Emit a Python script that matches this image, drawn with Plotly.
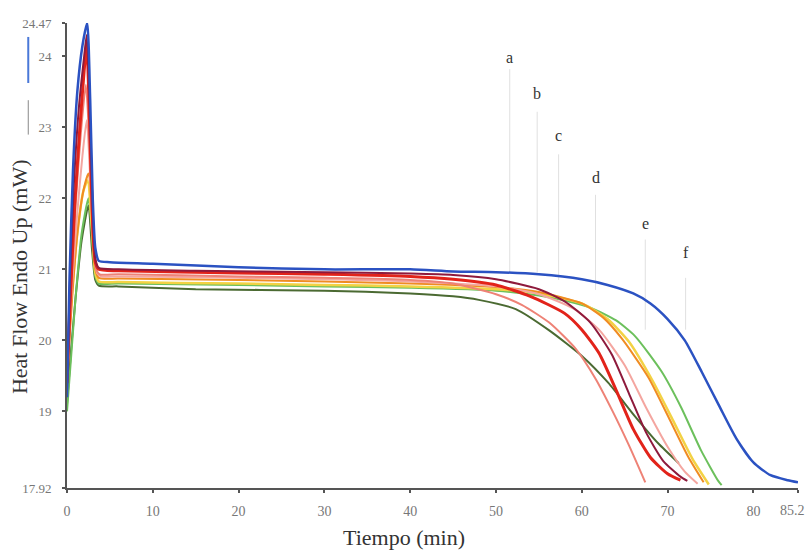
import plotly.graph_objects as go

# ---- data ----
blue_t = [0, 0.3, 0.7, 1.2, 1.8, 2.35, 2.7, 3.0, 3.3, 3.7, 5, 10, 20, 30, 40, 45, 50, 55, 60, 63, 66, 68, 70, 72, 74, 76, 78, 80, 82, 84, 85.2]
blue_y = [19.2, 20.9, 22.4, 23.5, 24.15, 24.47, 23.4, 22.0, 21.3, 21.12, 21.1, 21.08, 21.03, 21.0, 21.0, 20.97, 20.96, 20.93, 20.86, 20.78, 20.66, 20.52, 20.3, 20.0, 19.55, 19.08, 18.62, 18.28, 18.1, 18.03, 18.0]

maroon_t = [0, 0.3, 0.8, 1.4, 2.0, 2.3, 2.65, 3.0, 3.3, 3.7, 6, 15, 30, 40, 45, 50, 55, 58, 61, 63.5, 65.5, 67.5, 69.5, 71.5, 72.3]
maroon_y = [19.3, 20.7, 22.2, 23.3, 24.0, 24.3, 23.2, 21.8, 21.15, 21.02, 21.0, 20.98, 20.96, 20.94, 20.92, 20.86, 20.72, 20.55, 20.25, 19.8, 19.25, 18.7, 18.3, 18.08, 18.02]

red_t = [0, 0.4, 0.9, 1.5, 2.0, 2.3, 2.65, 3.0, 3.3, 3.7, 6, 20, 30, 40, 45, 50, 54, 58, 60, 62, 64, 66, 68, 70, 71.5]
red_y = [19.4, 20.6, 21.9, 23.0, 23.8, 24.15, 23.0, 21.6, 21.1, 21.0, 20.98, 20.95, 20.93, 20.9, 20.86, 20.78, 20.62, 20.38, 20.15, 19.82, 19.3, 18.75, 18.35, 18.12, 18.03]

salmon_t = [0, 0.5, 1.0, 1.6, 2.2, 2.6, 3.0, 3.4, 3.8, 6, 20, 30, 40, 45, 50, 53, 56.2, 59.3, 61.6, 63.6, 65.5, 67.4]
salmon_y = [19.5, 20.8, 21.9, 22.9, 23.6, 22.8, 21.5, 21.0, 20.93, 20.93, 20.9, 20.88, 20.85, 20.8, 20.65, 20.5, 20.25, 19.88, 19.46, 19.0, 18.52, 18.0]

pink_t = [0, 0.6, 1.2, 1.8, 2.3, 2.7, 3.1, 3.5, 4, 6, 20, 30, 40, 50, 55, 59, 62, 65, 67.5, 70, 72, 73.5]
pink_y = [19.6, 20.8, 21.8, 22.6, 23.1, 22.3, 21.3, 20.95, 20.9, 20.9, 20.88, 20.86, 20.83, 20.76, 20.65, 20.45, 20.15, 19.65, 19.05, 18.5, 18.15, 17.98]

orange_t = [0, 0.6, 1.2, 1.9, 2.5, 2.9, 3.3, 3.7, 6, 20, 30, 40, 50, 55, 60, 62.5, 64.7, 67.8, 70.1, 72.4, 74.2]
orange_y = [19.5, 20.6, 21.5, 22.1, 22.35, 21.8, 21.0, 20.88, 20.87, 20.85, 20.83, 20.8, 20.75, 20.68, 20.52, 20.32, 20.02, 19.47, 18.92, 18.36, 18.0]

yellow_t = [0, 0.6, 1.2, 1.9, 2.4, 2.9, 3.3, 3.7, 6, 20, 30, 40, 50, 55, 60, 63, 65.5, 68.3, 70.6, 72.9, 74.8]
yellow_y = [19.6, 20.7, 21.5, 22.1, 22.25, 21.6, 20.95, 20.83, 20.82, 20.8, 20.78, 20.76, 20.72, 20.66, 20.52, 20.3, 19.98, 19.42, 18.88, 18.33, 17.97]

green_t = [0, 0.5, 1.0, 1.7, 2.5, 2.9, 3.3, 3.7, 6, 20, 30, 40, 50, 55, 58, 61.2, 64, 66.2, 69.3, 71.6, 73.9, 75.9, 76.3]
green_y = [19.0, 19.8, 20.6, 21.5, 22.0, 21.5, 20.9, 20.8, 20.8, 20.78, 20.76, 20.74, 20.7, 20.63, 20.56, 20.45, 20.28, 20.06, 19.56, 19.05, 18.45, 18.02, 17.96]

olive_t = [0, 0.5, 1.0, 1.7, 2.5, 2.9, 3.3, 3.7, 6, 15, 30, 40, 45, 48, 52.3, 56.2, 60.1, 63.1, 66.2, 68.9, 71.3]
olive_y = [19.1, 19.9, 20.6, 21.4, 21.9, 21.3, 20.85, 20.77, 20.76, 20.72, 20.7, 20.66, 20.62, 20.57, 20.44, 20.14, 19.77, 19.40, 18.93, 18.55, 18.27]

x_ticks = [0, 10, 20, 30, 40, 50, 60, 70, 80, 85.2]
x_tick_text = ["0", "10", "20", "30", "40", "50", "60", "70", "80", "85.2"]
y_ticks = [17.92, 19, 20, 21, 22, 23, 24, 24.47]
y_tick_text = ["17.92", "19", "20", "21", "22", "23", "24", "24.47"]

marker_labels = ["a", "b", "c", "d", "e", "f"]
marker_t = [51.6, 54.8, 57.3, 61.6, 67.4, 72.1]
marker_label_y = [23.98, 23.48, 22.89, 22.3, 21.65, 21.24]
marker_top = [23.82, 23.22, 22.62, 22.05, 21.42, 20.88]
marker_bottom = [20.95, 20.96, 20.85, 20.71, 20.15, 20.15]

series = [
    (olive_t, olive_y, "#4B6A32", 2.0),
    (green_t, green_y, "#6CC05C", 2.0),
    (yellow_t, yellow_y, "#F3D244", 2.5),
    (orange_t, orange_y, "#F08C22", 2.0),
    (pink_t, pink_y, "#F4A6A0", 2.0),
    (salmon_t, salmon_y, "#EE8276", 2.0),
    (red_t, red_y, "#E2231A", 3.0),
    (maroon_t, maroon_y, "#8E1A3C", 2.0),
    (blue_t, blue_y, "#2B52C2", 2.5),
]

fig = go.Figure()
for t, y, c, w in series:
    fig.add_trace(go.Scatter(x=t, y=y, mode="lines",
                             line=dict(color=c, width=w, shape="spline", smoothing=0.6),
                             showlegend=False, hoverinfo="skip"))

shapes = []
for t, top, bot in zip(marker_t, marker_top, marker_bottom):
    shapes.append(dict(type="line", xref="x", yref="y", x0=t, x1=t, y0=bot, y1=top,
                       line=dict(color="#E0E0E0", width=1), layer="below"))

annotations = []
for lab, t, ly in zip(marker_labels, marker_t, marker_label_y):
    annotations.append(dict(x=t, y=ly, xref="x", yref="y", text=lab, showarrow=False,
                            font=dict(family="Liberation Serif", size=16, color="#333333")))

# last x tick label: right-aligned so it stays inside the page
tick_font = dict(family="Liberation Serif", size=14, color="#777777")
annotations.append(dict(x=x_ticks[-1], y=0, xref="x", yref="paper", xanchor="right", yanchor="top",
                        xshift=9, yshift=-13, text=x_tick_text[-1], showarrow=False, font=tick_font))
shown_x_text = x_tick_text[:-1] + [""]

annotations.append(dict(x=0.461, y=0, xref="paper", yref="paper", xanchor="center", yanchor="top",
                        yshift=-35, text="Tiempo (min)", showarrow=False,
                        font=dict(family="Liberation Serif", size=22, color="#333333")))
annotations.append(dict(x=-0.064, y=0.454, xref="paper", yref="paper", text="Heat Flow Endo Up (mW)",
                        showarrow=False, textangle=-90, xanchor="center", yanchor="middle",
                        font=dict(family="Liberation Serif", size=22, color="#333333")))

# y title decoration lines
shapes.append(dict(type="line", xref="paper", yref="paper", x0=-0.053, x1=-0.053,
                   y0=0.834, y1=0.76, line=dict(color="#888888", width=1)))
shapes.append(dict(type="line", xref="paper", yref="paper", x0=-0.053, x1=-0.053,
                   y0=0.97, y1=0.871, line=dict(color="#4A78D8", width=2)))

fig.update_layout(
    width=807, height=551,
    margin=dict(l=67, r=9, t=23, b=63, autoexpand=False),
    plot_bgcolor="white", paper_bgcolor="white",
    shapes=shapes, annotations=annotations,
    xaxis=dict(range=[0, 85.2], tickvals=x_ticks, ticktext=shown_x_text, automargin=False,
               showgrid=False, zeroline=False, showline=True, linecolor="#555555", linewidth=2,
               ticks="outside", ticklen=3, tickwidth=2, tickcolor="#555555",
               ticklabelstandoff=6, ticklabeloverflow="allow",
               tickfont=tick_font),
    yaxis=dict(range=[17.92, 24.47], tickvals=y_ticks, ticktext=y_tick_text, automargin=False,
               showgrid=False, zeroline=False, showline=True, linecolor="#555555", linewidth=2,
               ticks="outside", ticklen=3, tickwidth=2, tickcolor="#555555",
               ticklabelstandoff=8, ticklabeloverflow="allow",
               tickfont=dict(family="Liberation Serif", size=13, color="#777777")),
)

fig.write_html("out.html")
